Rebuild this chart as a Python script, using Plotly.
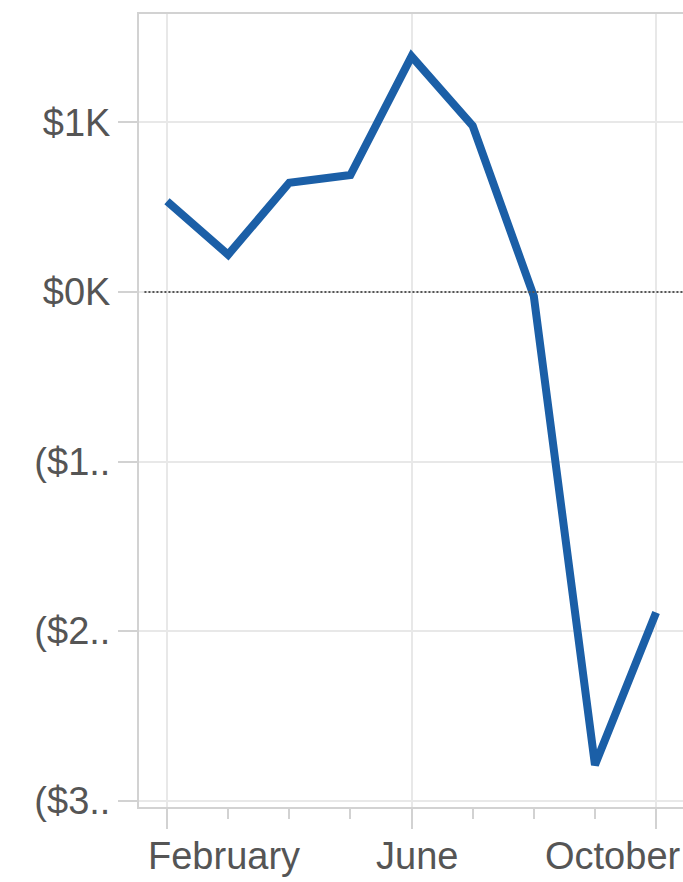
import plotly.graph_objects as go

months = ["February", "March", "April", "May", "June", "July", "August", "September", "October"]
profit = [535, 220, 645, 690, 1390, 980, -25, -2790, -1890]

y_tickvals = [1000, 0, -1000, -2000, -3000]
y_ticktext = ["$1K", "$0K", "($1..", "($2..", "($3.."]

x_labels = ["February", "June", "October"]

x_idx = list(range(len(months)))
label_idx = [months.index(m) for m in x_labels]

FONT = "Liberation Sans, Arial, sans-serif"
TXT = "#555555"
AXIS = "#d2d2d2"
GRID = "#e8e8e8"

fig = go.Figure()
fig.add_trace(go.Scatter(
    x=x_idx, y=profit, mode="lines",
    line=dict(color="#1b5fa7", width=8, shape="linear"),
    hovertext=months, showlegend=False,
))

fig.add_shape(type="line", xref="paper", yref="y", x0=0.01, x1=1, y0=0, y1=0,
              line=dict(color="#555555", width=2, dash="2px,2px"), layer="above")

anchors = ["left", "center", "right"]
shifts = [-21, 5, 27]
for xi, txt, anc, sh in zip(label_idx, x_labels, anchors, shifts):
    fig.add_annotation(x=xi, xref="x", y=0, yref="paper", text=txt, showarrow=False,
                       xanchor=anc, yanchor="top", xshift=sh, yshift=-26,
                       font=dict(family=FONT, size=38, color=TXT))

fig.update_layout(
    width=683, height=882,
    margin=dict(l=139, r=0, t=14, b=75),
    paper_bgcolor="white", plot_bgcolor="white",
    xaxis=dict(
        range=[-0.458, 8.44],
        tickmode="array", tickvals=label_idx, ticktext=x_labels,
        showticklabels=False,
        showgrid=True, gridcolor=GRID, gridwidth=2,
        showline=True, linecolor=AXIS, linewidth=2, mirror=True,
        ticks="outside", ticklen=20, tickwidth=2, tickcolor=AXIS,
        zeroline=False,
        minor=dict(dtick=1, tick0=0, ticks="outside", ticklen=10, tickwidth=2,
                   tickcolor=AXIS, showgrid=False),
    ),
    yaxis=dict(
        range=[-3038, 1640],
        tickmode="array", tickvals=y_tickvals, ticktext=y_ticktext,
        showgrid=True, gridcolor=GRID, gridwidth=2,
        showline=True, linecolor=AXIS, linewidth=2,
        ticks="outside", ticklen=19, tickwidth=2, tickcolor=AXIS,
        ticklabelstandoff=0,
        tickfont=dict(family=FONT, size=38, color=TXT),
        zeroline=False,
    ),
)

fig.write_html(
    "out.html",
    config={"displayModeBar": False},
    post_script="document.body.style.margin='0';document.body.style.padding='0';"
                "document.body.style.overflow='hidden';"
                "document.documentElement.style.overflow='hidden';",
)
